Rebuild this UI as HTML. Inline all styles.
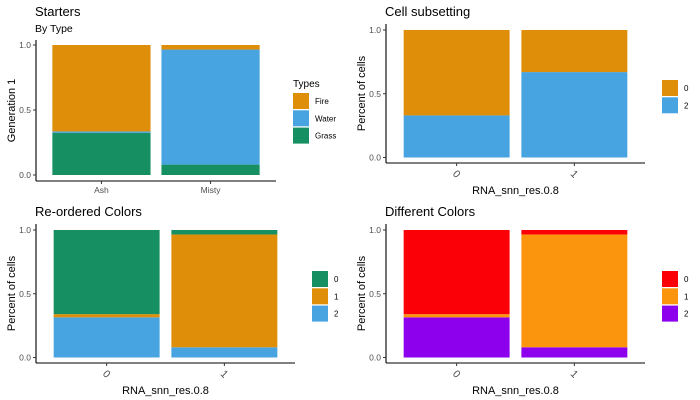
<!DOCTYPE html>
<html><head><meta charset="utf-8"><style>
body{margin:0;background:#fff}
svg{display:block;font-family:"Liberation Sans",Arial,sans-serif}
</style></head><body>
<svg id="c" width="700" height="400" xmlns="http://www.w3.org/2000/svg"></svg>
<script>
const p1Categories=["Ash","Misty"];
const p1Series=["Grass","Water","Fire"];
const p1Grass=[0.325,0.08];
const p1Water=[0.01,0.885];
const p1Fire=[0.665,0.035];
const p1Colors=["#168F62","#48A4E1","#DF8E0A"];

const p2Categories=["0","1"];
const p2Series=["2","0"];
const p2S2=[0.33,0.67];
const p2S0=[0.67,0.33];
const p2Colors=["#48A4E1","#DF8E0A"];

const p3Categories=["0","1"];
const p3Series=["2","1","0"];
const p3S2=[0.315,0.08];
const p3S1=[0.025,0.885];
const p3S0=[0.66,0.035];
const p3Colors=["#48A4E1","#DF8E0A","#168F62"];

const p4Categories=["0","1"];
const p4Series=["2","1","0"];
const p4S2=[0.315,0.08];
const p4S1=[0.025,0.885];
const p4S0=[0.66,0.035];
const p4Colors=["#8D00EE","#FB950D","#FB0006"];

const yTicks=[0,0.5,1.0];
const yTickLabels=["0.0","0.5","1.0"];

const NS="http://www.w3.org/2000/svg";
const svg=document.getElementById("c");
function mk(tag,attrs,parent,text){const e=document.createElementNS(NS,tag);for(const k in attrs)e.setAttribute(k,attrs[k]);if(text!==undefined)e.textContent=text;(parent||svg).appendChild(e);return e;}

function panel(o){
  const g=mk("g",{});
  
  
  const y=v=>o.y0-(o.y0-o.y1)*v;
  const n=o.cats.length;
  const step=(o.xEnd-o.axX)/(n-1+1.2);
  const xc=i=>o.axX+step*(0.6+i);
  const bw=step*0.9;
  o.cats.forEach((c,i)=>{
    let cum=0;
    o.vals.forEach((arr,s)=>{
      const v=arr[i];
      const r=mk("rect",{x:xc(i)-bw/2,y:y(cum+v),width:bw,height:y(cum)-y(cum+v),fill:o.colors[s]},g);
      
      
      cum+=v;
    });
  });
  const ya=mk("line",{x1:o.axX,y1:o.top,x2:o.axX,y2:o.axY,stroke:"#000","stroke-width":1.1},g);
  
  const xa=mk("line",{x1:o.axX,y1:o.axY,x2:o.xEnd,y2:o.axY,stroke:"#000","stroke-width":1.1},g);
  
  yTicks.forEach((t,i)=>{
    mk("line",{x1:o.axX-3,y1:y(t),x2:o.axX,y2:y(t),stroke:"#333"},g);
    const tl=mk("text",{x:o.axX-5,y:y(t)+3,"font-size":8.5,fill:"#4d4d4d","text-anchor":"end"},g,yTickLabels[i]);
    
  });
  o.cats.forEach((c,i)=>{
    mk("line",{x1:xc(i),y1:o.axY,x2:xc(i),y2:o.axY+3,stroke:"#333"},g);
    let tl;
    if(o.rot){const tx=xc(i), ty=o.axY+11;
      tl=mk("text",{x:tx,y:ty+3.5,"font-size":10.5,fill:"#4d4d4d","text-anchor":"middle",transform:`rotate(45 ${tx} ${ty})`},g,c);}
    else tl=mk("text",{x:xc(i),y:o.axY+12,"font-size":8.5,fill:"#4d4d4d","text-anchor":"middle"},g,c);
    
  });
  const t=mk("text",{x:o.axX-1,y:o.oy+16,"font-size":13,fill:"#000"},g,o.title);
  
  if(o.sub){const s=mk("text",{x:o.axX-1,y:o.oy+32,"font-size":10.5,fill:"#000"},g,o.sub);
    }
  const cy=(o.top+o.axY)/2;
  const yt=mk("text",{x:o.ox+15,y:cy,"font-size":11,fill:"#000","text-anchor":"middle",transform:`rotate(-90 ${o.ox+15} ${cy})`},g,o.ytitle);
  
  if(o.xtitle){const xt=mk("text",{x:(o.axX+o.xEnd)/2,y:o.oy+194,"font-size":11,fill:"#000","text-anchor":"middle"},g,o.xtitle);
    }
  const lg=mk("g",{},g);
  
  if(o.ltitle){mk("text",{x:o.lx,y:o.ly-6,"font-size":10,fill:"#000"},lg,o.ltitle);}
  const m=o.series.length;
  for(let k=0;k<m;k++){
    const s=m-1-k;
    const r=mk("rect",{x:o.lx,y:o.ly+k*17.3,width:16,height:16,fill:o.colors[s]},lg);
    
    const tx=mk("text",{x:o.lx+22,y:o.ly+k*17.3+11,"font-size":8,fill:"#000"},lg,o.series[s]);
    
  }
}
panel({name:"starters-panel",ox:0,oy:0,cats:p1Categories,series:p1Series,vals:[p1Grass,p1Water,p1Fire],colors:p1Colors,
  axX:36,axY:181,top:40,xEnd:276,y0:175,y1:45,title:"Starters",sub:"By Type",ytitle:"Generation 1",rot:false,
  lx:293,ly:93,ltitle:"Types"});
panel({name:"cell-subsetting-panel",ox:350,oy:0,cats:p2Categories,series:p2Series,vals:[p2S2,p2S0],colors:p2Colors,
  axX:386,axY:163,top:24,xEnd:645,y0:157.5,y1:30,title:"Cell subsetting",ytitle:"Percent of cells",xtitle:"RNA_snn_res.0.8",rot:true,
  lx:662,ly:80});
panel({name:"reordered-colors-panel",ox:0,oy:200,cats:p3Categories,series:p3Series,vals:[p3S2,p3S1,p3S0],colors:p3Colors,
  axX:36,axY:363,top:224,xEnd:295,y0:357.5,y1:230,title:"Re-ordered Colors",ytitle:"Percent of cells",xtitle:"RNA_snn_res.0.8",rot:true,
  lx:312,ly:271});
panel({name:"different-colors-panel",ox:350,oy:200,cats:p4Categories,series:p4Series,vals:[p4S2,p4S1,p4S0],colors:p4Colors,
  axX:386,axY:363,top:224,xEnd:645,y0:357.5,y1:230,title:"Different Colors",ytitle:"Percent of cells",xtitle:"RNA_snn_res.0.8",rot:true,
  lx:662,ly:271});
</script>
</body></html>
